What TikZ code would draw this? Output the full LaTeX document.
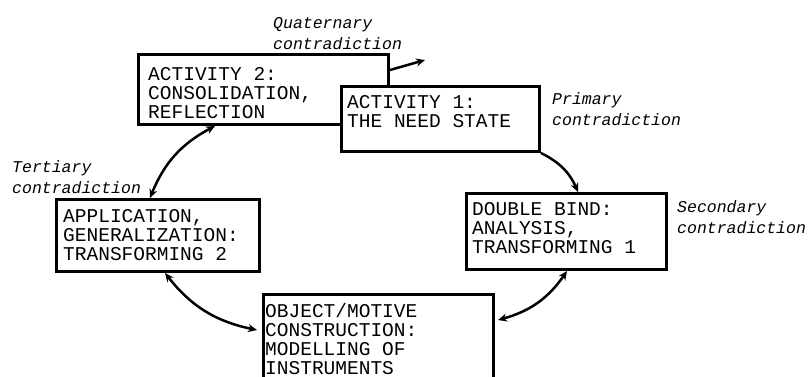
\documentclass[tikz,border=0pt]{standalone}
\usepackage{fontspec}
\setmonofont{Liberation Mono}
\usetikzlibrary{arrows.meta,calc}
\begin{document}
\begin{tikzpicture}[x=1pt,y=-1pt,
  blk/.style={draw, line width=3pt, fill=white, inner sep=0pt, anchor=north west},
  boxtxt/.style={font=\ttfamily\fontsize{19.5}{19}\selectfont, align=left, inner sep=0pt, anchor=north west},
  lbl/.style={font=\ttfamily\itshape\fontsize{16.5}{21}\selectfont, align=left, inner sep=0pt, anchor=north west},
  conn/.style={line width=2.5pt},
  tip/.tip={Stealth[length=9pt,width=8pt]}]
\useasboundingbox (0,0) rectangle (808,376);
\clip (0,0) rectangle (808,376);

% activity boxes (activity 1 overlaps activity 2)
\node[blk, minimum width=250pt, minimum height=70pt] (act2) at (137,53) {};
\node[boxtxt] (t2) at ($(act2.north west)+(11,14)$) {ACTIVITY 2:\\CONSOLIDATION,\\REFLECTION};
\node[blk, minimum width=198pt, minimum height=65pt] (act1) at (340,85) {};
\node[boxtxt] (t1) at ($(act1.north west)+(7,10)$) {ACTIVITY 1:\\THE NEED STATE};

\node[blk, minimum width=200pt, minimum height=76pt] (db) at (465,192) {};
\node[boxtxt] (tdb) at ($(db.north west)+(7,10)$) {DOUBLE BIND:\\ANALYSIS,\\TRANSFORMING 1};

\node[blk, minimum width=203pt, minimum height=72pt] (app) at (55,198) {};
\node[boxtxt] (tapp) at ($(app.north west)+(8,11)$) {APPLICATION,\\GENERALIZATION:\\TRANSFORMING 2};

\node[blk, minimum width=230pt, minimum height=120pt] (obj) at (262,293) {};
\node[boxtxt] (tobj) at ($(obj.north west)+(3,10)$) {OBJECT/MOTIVE\\CONSTRUCTION:\\MODELLING OF\\INSTRUMENTS};

% contradiction labels
\node[lbl] (lq) at (273,17) {Quaternary\\contradiction};
\node[lbl] (lp) at (552,92) {Primary\\contradiction};
\node[lbl] (ls) at (677,200) {Secondary\\contradiction};
\node[lbl] (lt) at (12,160) {Tertiary\\contradiction};

% connectors
\coordinate (qend) at (425,60);
\draw[conn,-tip] ($(act2.north east)+(0,17)$) -- (qend);
\draw[conn,-tip] (act1.south east) to[bend left=20] ($(db.north west)+(113,0)$);
\draw[conn,tip-tip] ($(db.south west)+(102,0)$) to[bend left=20] ($(obj.north east)+(3,27)$);
\draw[conn,tip-tip] ($(app.south west)+(110,0)$) to[bend right=20] ($(obj.north west)+(-5,37)$);
\draw[conn,tip-tip] ($(act2.south west)+(78,0)$) to[bend right=20] ($(app.north west)+(95,0)$);
\end{tikzpicture}
\end{document}
